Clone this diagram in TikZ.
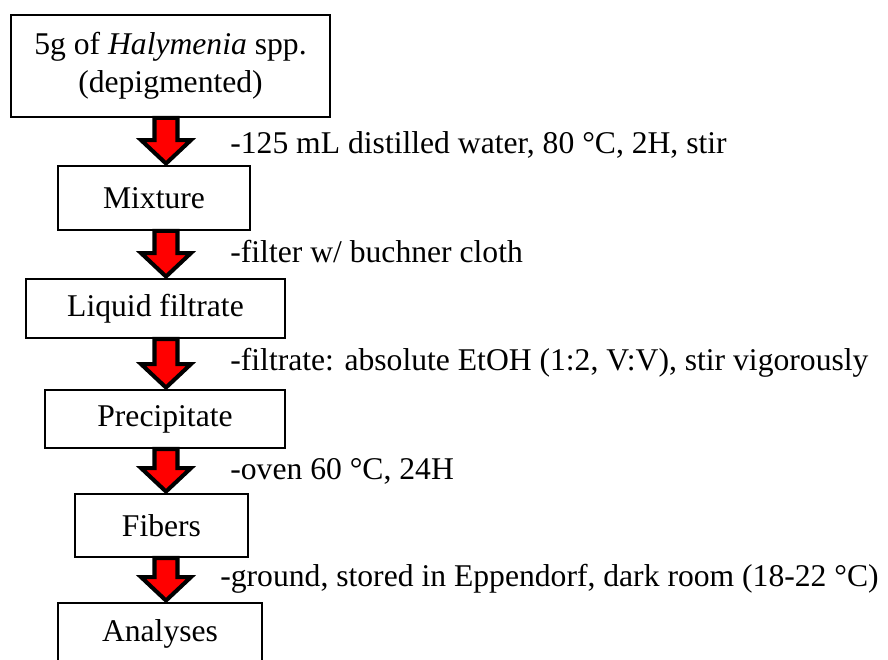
\documentclass[tikz,border=0pt]{standalone}
\usepackage{fontspec}
\setmainfont{Liberation Serif}
\usetikzlibrary{calc}

\tikzset{
    stepbox/.style={draw, line width=1.1pt, inner sep=0pt, align=center},
    note/.style={anchor=base west, inner sep=0pt},
    flowarrow/.style={draw=black, fill=red, line width=2.3pt, line join=miter}
}

% block arrow from the bottom of one box to the top of the next
\newcommand{\stepflow}[2]{%
    \draw[flowarrow] let \p1=(#1.south -| axis), \p2=(#2.north -| axis) in
        (\x1-0.23cm,\y1) -- (\x1+0.23cm,\y1) -- (\x1+0.23cm,\y2+0.50cm)
        -- (\x1+0.50cm,\y2+0.50cm) -- (\x1,\y2+0.03cm) -- (\x1-0.50cm,\y2+0.50cm)
        -- (\x1-0.23cm,\y2+0.50cm) -- cycle;}

\begin{document}
\begin{tikzpicture}[font=\fontsize{18}{21.6}\selectfont]

    \clip (0,0) rectangle (17.76,-13.18);
    \coordinate (axis) at (3.32,0);

    % Boxes
    \node[stepbox, minimum width=6.38cm, minimum height=2.04cm] (raw) at (3.41,-1.32) {5g of \textit{Halymenia} spp.\\(depigmented)};
    \node[stepbox, minimum width=3.84cm, minimum height=1.28cm] (mixture) at (3.08,-3.96) {Mixture};
    \node[stepbox, minimum width=5.18cm, minimum height=1.18cm] (filtrate) at (3.11,-6.17) {Liquid filtrate};
    \node[stepbox, minimum width=4.80cm, minimum height=1.16cm] (precip) at (3.30,-8.38) {Precipitate};
    \node[stepbox, minimum width=3.46cm, minimum height=1.26cm] (fibers) at (3.23,-10.51) {Fibers};
    \node[stepbox, minimum width=4.08cm, minimum height=1.24cm] (analyses) at (3.20,-12.68) {Analyses};

    % Arrows
    \stepflow{raw}{mixture}
    \stepflow{mixture}{filtrate}
    \stepflow{filtrate}{precip}
    \stepflow{precip}{fibers}
    \stepflow{fibers}{analyses}

    % Conditions
    \node[note] (cond1) at (4.60,-3.06) {-125 mL distilled water, 80 °C, 2H, stir};
    \node[note] (cond2) at (4.60,-5.24) {-filter w/ buchner cloth};
    \node[note] (cond3) at (4.60,-7.40) {-filtrate: absolute EtOH (1:2, V:V), stir vigorously};
    \node[note] (cond4) at (4.60,-9.58) {-oven 60 °C, 24H};
    \node[note] (cond5) at (4.40,-11.72) {-ground, stored in Eppendorf, dark room (18-22 °C)};

\end{tikzpicture}
\end{document}
